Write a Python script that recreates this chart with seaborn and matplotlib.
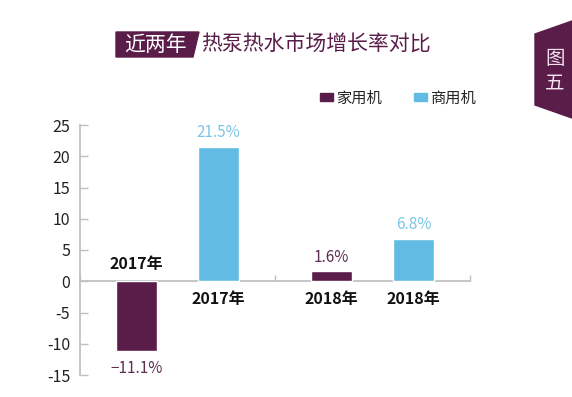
import pandas as pd
import matplotlib
matplotlib.use("Agg")
import matplotlib.pyplot as plt
from matplotlib.patches import Polygon, Patch
import seaborn as sns

# data
years = ["2017年", "2017年", "2018年", "2018年"]
kinds = ["家用机", "商用机", "家用机", "商用机"]
growth = [-11.1, 21.5, 1.6, 6.8]
value_labels = ["\u221211.1%", "21.5%", "1.6%", "6.8%"]
yticks = [-15, -10, -5, 0, 5, 10, 15, 20, 25]

title_tag = "近两年"
title_text = "热泵热水市场增长率对比"
fig_tag = ["图", "五"]

purple = "#5a1d4a"
blue = "#62bbe2"
colors = {"家用机": purple, "商用机": blue}
label_colors = {"家用机": "#5e2d52", "商用机": "#7cc5e6"}

sns.set_theme(style="white")
plt.rcParams["font.family"] = ["Noto Sans CJK SC", "DejaVu Sans"]

df = pd.DataFrame({"year": years, "kind": kinds, "growth": growth})

W, H = 572, 397
fig = plt.figure(figsize=(W / 100, H / 100), dpi=100)
ax = fig.add_axes([80 / W, 1 - 375 / H, 390 / W, 250 / H])

sns.barplot(data=df, x="year", y="growth", hue="kind", palette=colors,
            width=0.84, gap=0.5, ax=ax, legend=False, saturation=1)

ax.set_ylim(-15, 25)
ax.set_xlim(-0.5, 1.5)
ax.set_yticks(yticks)
ax.set_yticklabels([str(t) for t in yticks], fontsize=11.5, color="#222222")
ax.tick_params(axis="y", direction="in", length=6, width=1, color="#bfbfbf", pad=7, left=True)
ax.set_xticks([-0.5, 0.5, 1.5])
ax.set_xticklabels([])
ax.tick_params(axis="x", direction="in", length=4, width=1, color="#bfbfbf", bottom=True)
ax.set_xlabel("")
ax.set_ylabel("")
for s in ["top", "right"]:
    ax.spines[s].set_visible(False)
ax.spines["bottom"].set_position(("data", 0))
ax.spines["bottom"].set_color("#bfbfbf")
ax.spines["left"].set_color("#bfbfbf")
ax.spines["bottom"].set_zorder(0)

# bars come out in hue order: all 家用机, then all 商用机
patches = sorted(ax.patches, key=lambda p: p.get_x())
for p, v, yr, kd, vl in zip(patches, growth, years, kinds, value_labels):
    cx = p.get_x() + p.get_width() / 2
    off = 10 if v >= 0 else -13
    ax.annotate(vl, (cx, v), xytext=(0, off), textcoords="offset points",
                ha="center", va="center", fontsize=11, color=label_colors[kd],
                fontweight="light")
    coff = -12.5 if v >= 0 else 12.5
    ax.annotate(yr, (cx, 0), xytext=(0, coff), textcoords="offset points",
                ha="center", va="center", fontsize=11.5, fontweight="bold",
                color="#111111")

# legend
handles = [Patch(color=colors[k]) for k in ["家用机", "商用机"]]
fig.legend(handles, ["家用机", "商用机"], loc="center left",
           bbox_to_anchor=(306 / W, 1 - 98 / H), ncol=2, frameon=False,
           fontsize=11, handletextpad=0.2, columnspacing=2.1,
           handlelength=0.85, handleheight=0.4)

# title box and text
def px(x, y):
    return (x / W, 1 - y / H)

fig.patches.append(Polygon([px(116, 32), px(199, 32), px(193, 57), px(116, 57)],
                           closed=True, transform=fig.transFigure, color=purple))
fig.text(*px(155, 45), title_tag, color="white", fontsize=15, ha="center", va="center")
fig.text(*px(201, 45), title_text, color=purple, fontsize=15, ha="left", va="center")

# side tag
fig.patches.append(Polygon([px(535, 34), px(572, 21), px(572, 118), px(535, 105)],
                           closed=True, transform=fig.transFigure, color=purple))
fig.text(*px(555, 59), fig_tag[0], color="#f3e3ee", fontsize=14, ha="center", va="center")
fig.text(*px(555, 83), fig_tag[1], color="#f3e3ee", fontsize=14, ha="center", va="center")

fig.savefig("out.png", dpi=100)
